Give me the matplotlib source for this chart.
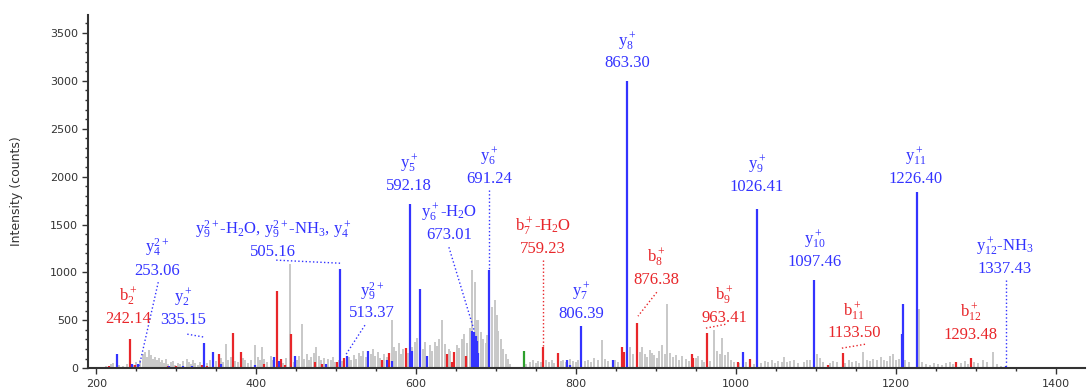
import numpy as np
import matplotlib.pyplot as plt
from matplotlib.ticker import MultipleLocator

plt.rcParams['mathtext.fontset'] = 'custom'
plt.rcParams['mathtext.rm'] = 'Liberation Serif'
plt.rcParams['mathtext.it'] = 'Liberation Serif'

# unassigned peaks (m/z, intensity)
gray_mz = [205, 212, 218, 221, 226, 229, 234, 238, 247, 250, 255, 258, 261, 264, 266, 269, 271, 274, 276, 278,
           280, 282, 285, 287, 290, 293, 296, 299, 302, 305, 309, 313, 316, 319, 321, 324, 327, 330, 338, 342,
           350, 356, 359, 362, 365, 368, 373, 377, 383, 386, 390, 394, 398, 402, 405, 407, 410, 414, 418, 421,
           429, 434, 437, 441.9, 447, 451, 454, 457, 460, 463, 466, 469, 472, 475, 478, 481, 485, 490, 493, 496,
           499, 503, 507, 516, 519, 522, 525, 528, 531, 534, 537, 543, 546, 549, 552, 555, 560, 563, 566, 569.6,
           572, 575, 578, 581, 584, 590, 595, 598, 601, 608, 611, 617, 620, 623, 626, 629, 633, 636, 641, 643,
           651, 654, 657, 660, 664, 667, 670.4, 673.8, 676, 678, 681, 684, 687, 689, 694.6, 698.8, 701, 703, 706, 709,
           712, 715, 718, 722, 727, 731, 738, 742, 746, 750, 753, 756, 763, 766, 770, 773, 781, 784, 787, 793,
           796, 800, 803, 811, 815, 819, 823, 827, 832, 836, 840, 849, 853, 867, 871, 880, 883, 886, 889, 892,
           895, 898, 901, 904, 908, 911, 914, 918, 921, 925, 929, 933, 937, 941, 950, 953, 957, 960, 967, 972,
           976, 980, 983, 986, 990, 994, 998, 1004, 1012, 1022, 1031, 1036, 1040, 1045, 1049, 1053, 1057, 1060, 1064, 1068,
           1073, 1077, 1085, 1089, 1093, 1101.6, 1105, 1109, 1118, 1122, 1127, 1137, 1141, 1145, 1150, 1154, 1159, 1164, 1168, 1172,
           1177, 1181, 1185, 1189, 1192.5, 1196, 1200, 1204, 1212, 1217, 1229, 1233, 1238, 1243, 1248, 1253, 1258, 1263, 1268, 1272,
           1281, 1286, 1290, 1298, 1303, 1309, 1314, 1321.7, 1326, 1331, 1343, 1350, 1358, 1366, 1375, 1385, 1396, 1408, 1420]
gray_int = [15, 25, 40, 55, 30, 35, 20, 45, 30, 60, 90, 150, 170, 120, 190, 140, 100, 120, 80, 110,
            60, 80, 50, 100, 40, 60, 75, 35, 50, 40, 70, 100, 60, 40, 80, 50, 30, 60, 50, 90,
            70, 110, 60, 250, 90, 120, 70, 60, 110, 80, 50, 90, 240, 120, 80, 220, 100, 60, 130, 90,
            70, 50, 110, 1086, 60, 90, 130, 459, 100, 150, 80, 120, 160, 216, 130, 90, 110, 100, 80, 120,
            60, 90, 70, 120, 90, 140, 100, 160, 130, 180, 120, 150, 200, 130, 170, 110, 150, 120, 130, 500,
            220, 180, 260, 150, 200, 160, 220, 275, 310, 200, 270, 240, 180, 275, 230, 300, 500, 250, 200, 180,
            240, 210, 300, 360, 260, 420, 1023, 900, 500, 500, 380, 300, 260, 350, 640, 710, 560, 390, 300, 200,
            150, 100, 40, 15, 10, 15, 40, 60, 80, 50, 70, 60, 90, 60, 80, 50, 70, 90, 60, 100,
            70, 60, 80, 70, 90, 60, 110, 80, 292, 100, 70, 90, 60, 220, 150, 170, 220, 150, 120, 190,
            160, 140, 110, 180, 240, 150, 668, 160, 120, 140, 90, 130, 100, 70, 110, 130, 90, 60, 70, 397,
            180, 150, 310, 140, 170, 90, 60, 50, 60, 40, 50, 70, 60, 80, 50, 70, 60, 112, 60, 70,
            90, 50, 60, 80, 90, 153, 110, 60, 50, 70, 60, 50, 80, 60, 70, 50, 164, 90, 70, 100,
            80, 120, 90, 70, 125, 150, 90, 100, 90, 60, 620, 60, 40, 30, 50, 40, 30, 50, 60, 40,
            50, 70, 40, 60, 50, 80, 60, 167, 40, 20, 15, 10, 15, 10, 12, 8, 10, 8, 6]

# y-type fragment peaks
blue_mz = [225.4, 245, 252.5, 291, 308, 320, 335.15, 346, 356, 398, 422.5, 428, 448.8, 487, 505.16, 513.37,
           540.4, 563, 570, 592.18, 594.6, 605, 614, 669.6, 671.7, 673.01, 674.5, 675.8, 677.5, 691.24, 789, 793,
           806.39, 845.8, 863.30, 1008.3, 1026.41, 1080, 1097.46, 1207.5, 1208.8, 1226.40, 1337.43]
blue_int = [153, 40, 40, 25, 25, 20, 264, 170, 40, 30, 118, 70, 125, 45, 1034, 125,
            181, 80, 70, 1712, 177, 830, 125, 390, 380, 376, 340, 285, 160, 1020, 80, 30,
            442, 84, 2996, 164, 1660, 17, 919, 355, 675, 1837, 24]

# b-type fragment peaks
red_mz = [216, 242.14, 248, 290, 300, 331.7, 338, 353.8, 370.4, 380.4, 410, 425.8, 431, 436, 443, 473.7, 482,
          500.8, 510, 557.9, 566.7, 587.5, 639, 645.4, 648, 662.5, 759.23, 777, 857, 859.5, 876.38, 944.6,
          946.5, 963.41, 1003, 1017, 1115, 1133.50, 1275.8, 1293.48]
red_int = [20, 303, 30, 25, 20, 30, 20, 153, 369, 170, 40, 804, 100, 30, 355, 66, 40,
           66, 108, 90, 160, 212, 146, 60, 170, 128, 222, 160, 222, 170, 473, 153,
           110, 369, 60, 92, 35, 157, 66, 104]

green_mz = [735]
green_int = [181]

BLUE = '#3333ff'
RED = '#e8262a'
GRAY = '#c8c8c8'

# (ion, m/z text, colour, label x, ion line y, value line y, leader)
labels = [
    (r'b$_2^+$', '242.14', RED, 240, 741, 512, None),
    (r'y$_4^{2+}$', '253.06', BLUE, 276, 1253, 1013, (277.5, 898, 253.8, 25)),
    (r'y$_2^+$', '335.15', BLUE, 309, 731, 501, (313.8, 355, 335, 324)),
    (r'y$_9^{2+}$-H$_2$O, y$_9^{2+}$-NH$_3$, y$_4^+$', '505.16', BLUE, 421, 1441, 1211, (425, 1128, 505, 1096)),
    (r'y$_9^{2+}$', '513.37', BLUE, 545, 793, 574, (536, 449, 512.5, 146)),
    (r'y$_5^+$', '592.18', BLUE, 591, 2130, 1900, None),
    (r'y$_6^+$-H$_2$O', '673.01', BLUE, 641, 1618, 1389, (641, 1263, 672.5, 397)),
    (r'y$_6^+$', '691.24', BLUE, 691, 2203, 1973, (691.24, 1858, 691.24, 1023)),
    (r'b$_7^+$-H$_2$O', '759.23', RED, 759, 1472, 1242, (759.23, 1128, 759.23, 222)),
    (r'y$_7^+$', '806.39', BLUE, 806, 793, 564, None),
    (r'y$_8^+$', '863.30', BLUE, 864, 3403, 3184, None),
    (r'b$_8^+$', '876.38', RED, 900, 1148, 919, (901, 793, 877.5, 543)),
    (r'b$_9^+$', '963.41', RED, 985, 752, 522, (962.5, 418, 987.5, 459)),
    (r'y$_9^+$', '1026.41', BLUE, 1026, 2119, 1890, None),
    (r'y$_{10}^+$', '1097.46', BLUE, 1099, 1336, 1107, None),
    (r'b$_{11}^+$', '1133.50', RED, 1147.5, 585, 365, (1132.5, 209, 1162.5, 251)),
    (r'y$_{11}^+$', '1226.40', BLUE, 1225, 2203, 1973, None),
    (r'y$_{12}^+$-NH$_3$', '1337.43', BLUE, 1336, 1263, 1034, (1337.43, 919, 1337.43, 31)),
    (r'b$_{12}^+$', '1293.48', RED, 1294, 574, 345, None),
]

fig = plt.figure(figsize=(10.9, 3.9), dpi=100)
ax = fig.add_axes([0.081, 0.056, 0.914, 0.906])

ax.vlines(gray_mz, 0, gray_int, color=GRAY, lw=1.4)
ax.vlines(red_mz, 0, red_int, color=RED, lw=1.6)
ax.vlines(green_mz, 0, green_int, color='#2ca02c', lw=1.6)
ax.vlines(blue_mz, 0, blue_int, color=BLUE, lw=1.6)

for ion, val, col, lx, y1, y2, lead in labels:
    ax.text(lx, y1, ion, color=col, fontsize=12, family='Liberation Serif', ha='center', va='center')
    ax.text(lx, y2, val, color=col, fontsize=12, family='Liberation Serif', ha='center', va='center')
    if lead:
        ax.plot([lead[0], lead[2]], [lead[1], lead[3]], color=col, lw=1, ls=':')

ax.set_xlim(190, 1436)
ax.set_ylim(0, 3690)
ax.xaxis.set_major_locator(MultipleLocator(200))
ax.xaxis.set_minor_locator(MultipleLocator(50))
ax.yaxis.set_major_locator(MultipleLocator(500))
ax.yaxis.set_minor_locator(MultipleLocator(100))
ax.tick_params(which='major', length=4, width=1, labelsize=8, colors='#333333')
ax.tick_params(which='minor', length=2, width=1, colors='#333333')
ax.set_ylabel('Intensity (counts)', fontsize=9, color='#333333', labelpad=19)
for s in ['top', 'right']:
    ax.spines[s].set_visible(False)
for s in ['left', 'bottom']:
    ax.spines[s].set_color('#333333')
    ax.spines[s].set_linewidth(1.5)

fig.savefig('out.png', dpi=100)
